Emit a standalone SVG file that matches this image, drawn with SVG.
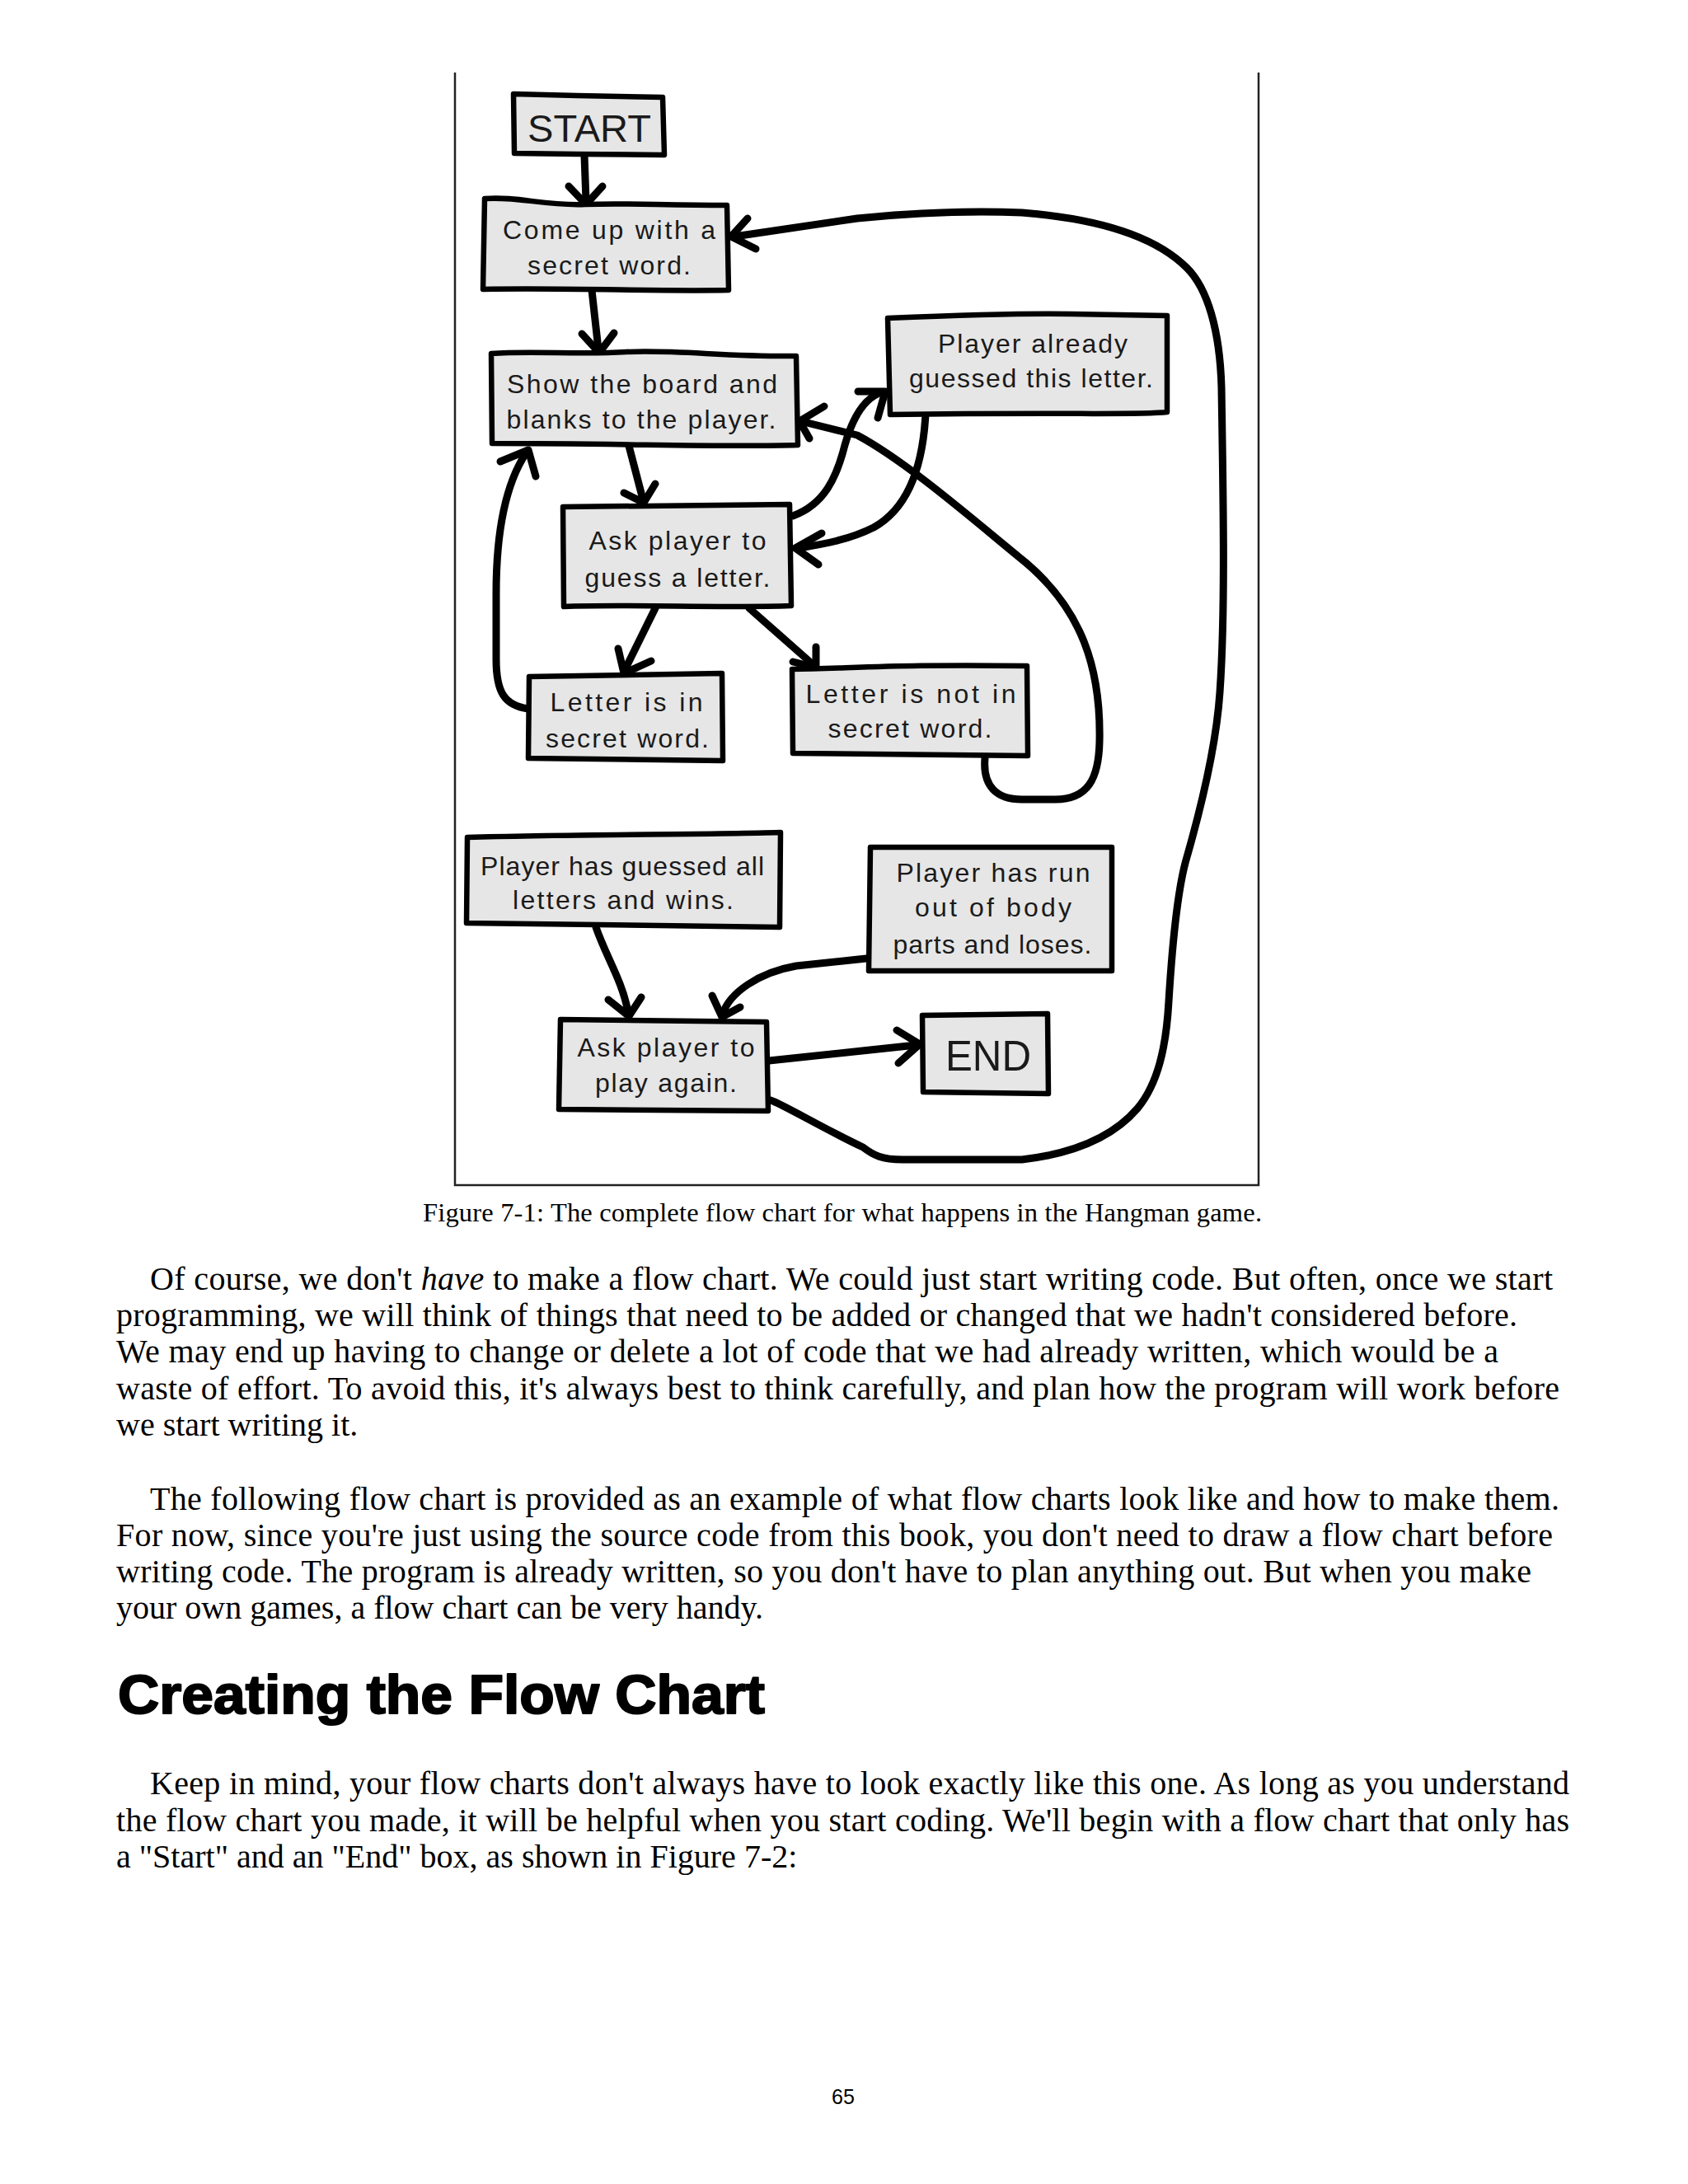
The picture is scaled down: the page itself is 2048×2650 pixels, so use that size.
<svg xmlns="http://www.w3.org/2000/svg" width="2048" height="2650" viewBox="0 0 2048 2650">
<style>
.box{fill:#e6e6e6;stroke:#000;stroke-width:6.5;stroke-linejoin:round}
.hand{font-family:"Liberation Sans","DejaVu Sans",sans-serif;font-size:32px;fill:#1a1a1a;text-anchor:middle}
.big{font-size:47px}
.huge{font-size:52px}
.line{fill:none;stroke:#000;stroke-width:9;stroke-linecap:round;stroke-linejoin:round}
.arrow{fill:none;stroke:#000;stroke-width:9;stroke-linecap:round;stroke-linejoin:round}
.frame{fill:none;stroke:#222;stroke-width:2.5}
.body{font-family:"Liberation Serif","Times New Roman",serif;font-size:40px;fill:#000}
.cap{font-family:"Liberation Serif","Times New Roman",serif;font-size:32.5px;fill:#000}
.head{font-family:"Liberation Sans",Arial,sans-serif;font-size:66px;font-weight:bold;fill:#000;stroke:#000;stroke-width:2;stroke-linejoin:round}
.pg{font-family:"Liberation Sans",Arial,sans-serif;font-size:25px;fill:#000}
</style>
<rect width="2048" height="2650" fill="#fff"/>
<path class="frame" d="M552,88 L552,1438 L1527,1438 L1527,88"/>

<g id="connectors">
  <path class="line" d="M709,189 L711,244"/>
  <path class="arrow" d="M690,226 L711,248 L731,226"/>
  <path class="line" d="M718,352 L726,424"/>
  <path class="arrow" d="M706,405 L727,428 L745,404"/>
  <path class="line" d="M763,541 L780,606"/>
  <path class="arrow" d="M757,598 L781,610 L795,587"/>
  <path class="line" d="M795,738 L758,813"/>
  <path class="arrow" d="M750,787 L757,817 L790,802"/>
  <path class="line" d="M909,738 L986,806"/>
  <path class="arrow" d="M962,803 L990,810 L990,785"/>
  <path class="line" d="M641,860 C612,856 602,840 602,800 L602,720 C602,640 615,585 638,550"/>
  <path class="arrow" d="M607,560 L641,546 L650,578"/>
  <path class="line" d="M1195,920 C1192,955 1210,970 1240,970 L1280,970 C1320,970 1333,945 1334,900 C1336,810 1312,740 1245,683 C1180,630 1100,560 1040,528 L975,512"/>
  <path class="arrow" d="M1000,493 L970,511 L982,532"/>
  <path class="line" d="M962,626 C1000,612 1015,580 1025,540 C1035,505 1050,482 1070,476"/>
  <path class="arrow" d="M1041,475 L1074,475 L1065,507"/>
  <path class="line" d="M1123,502 C1120,560 1105,615 1060,640 C1030,655 1000,660 970,665"/>
  <path class="arrow" d="M997,647 L965,665 L993,685"/>
  <path class="line" d="M723,1125 C735,1160 755,1190 762,1228"/>
  <path class="arrow" d="M738,1213 L763,1233 L778,1210"/>
  <path class="line" d="M1051,1163 L966,1172 C920,1180 885,1205 877,1230"/>
  <path class="arrow" d="M864,1208 L876,1234 L898,1222"/>
  <path class="line" d="M933,1287 L1112,1268"/>
  <path class="arrow" d="M1088,1250 L1116,1267 L1090,1290"/>
  <path class="line" d="M935,1335 C950,1340 1000,1370 1047,1392 C1060,1402 1070,1407 1095,1407 L1240,1407 C1300,1400 1350,1380 1380,1345 C1405,1315 1415,1270 1418,1215 C1422,1150 1428,1080 1440,1040 C1460,970 1476,900 1480,840 C1487,740 1484,600 1482,470 C1480,400 1465,350 1440,325 C1400,285 1330,265 1240,258 C1170,255 1110,258 1040,265 L891,287"/>
  <path class="arrow" d="M907,265 L887,287 L917,302"/>
</g>

<g id="start">
  <path class="box" d="M623,114 L700,116 L804,118 L806,188 L700,187 L624,186 Z"/>
  <text class="hand big" x="715" y="172" textLength="150" lengthAdjust="spacingAndGlyphs">START</text>
</g>
<g id="come-up">
  <path class="box" d="M588,241 C630,238 660,250 710,248 C760,246 800,249 882,249 L884,352 C800,354 700,349 586,351 Z"/>
  <text class="hand" x="739" y="290" textLength="258" lengthAdjust="spacing">Come up with a</text>
  <text class="hand" x="739" y="333" textLength="198" lengthAdjust="spacing">secret word.</text>
</g>
<g id="show-board">
  <path class="box" d="M596,429 C650,425 700,431 760,427 C820,424 880,433 966,432 L968,540 C880,543 760,538 597,538 Z"/>
  <text class="hand" x="779" y="477" textLength="328" lengthAdjust="spacing">Show the board and</text>
  <text class="hand" x="778" y="520" textLength="327" lengthAdjust="spacing">blanks to the player.</text>
</g>
<g id="already-guessed">
  <path class="box" d="M1077,386 C1150,383 1250,380 1300,381 L1416,383 L1416,500 C1380,504 1300,500 1080,503 Z"/>
  <text class="hand" x="1253" y="428" textLength="230" lengthAdjust="spacing">Player already</text>
  <text class="hand" x="1251" y="470" textLength="296" lengthAdjust="spacing">guessed this letter.</text>
</g>
<g id="ask-guess">
  <path class="box" d="M683,615 L958,612 L960,735 C880,738 760,733 684,736 Z"/>
  <text class="hand" x="822" y="667" textLength="215" lengthAdjust="spacing">Ask player to</text>
  <text class="hand" x="822" y="712" textLength="225" lengthAdjust="spacing">guess a letter.</text>
</g>
<g id="letter-in">
  <path class="box" d="M642,821 L876,817 L877,923 L641,920 Z"/>
  <text class="hand" x="760" y="863" textLength="185" lengthAdjust="spacing">Letter is in</text>
  <text class="hand" x="761" y="907" textLength="198" lengthAdjust="spacing">secret word.</text>
</g>
<g id="letter-not-in">
  <path class="box" d="M961,812 C1050,810 1100,806 1246,808 L1247,917 L962,914 Z"/>
  <text class="hand" x="1105" y="853" textLength="255" lengthAdjust="spacing">Letter is not in</text>
  <text class="hand" x="1104" y="895" textLength="199" lengthAdjust="spacing">secret word.</text>
</g>
<g id="wins">
  <path class="box" d="M567,1016 C700,1012 850,1013 947,1010 L946,1125 L566,1120 Z"/>
  <text class="hand" x="755" y="1062" textLength="344" lengthAdjust="spacing">Player has guessed all</text>
  <text class="hand" x="756" y="1103" textLength="268" lengthAdjust="spacing">letters and wins.</text>
</g>
<g id="loses">
  <path class="box" d="M1056,1028 L1349,1028 L1349,1178 L1054,1178 Z"/>
  <text class="hand" x="1205" y="1070" textLength="235" lengthAdjust="spacing">Player has run</text>
  <text class="hand" x="1205" y="1112" textLength="190" lengthAdjust="spacing">out of body</text>
  <text class="hand" x="1204" y="1157" textLength="241" lengthAdjust="spacing">parts and loses.</text>
</g>
<g id="play-again">
  <path class="box" d="M680,1237 L930,1240 L932,1348 L678,1346 Z"/>
  <text class="hand" x="808" y="1282" textLength="215" lengthAdjust="spacing">Ask player to</text>
  <text class="hand" x="808" y="1325" textLength="172" lengthAdjust="spacing">play again.</text>
</g>
<g id="end">
  <path class="box" d="M1119,1232 L1271,1230 L1272,1327 L1120,1325 Z"/>
  <text class="hand huge" x="1199" y="1299" textLength="104" lengthAdjust="spacingAndGlyphs">END</text>
</g>

<text class="cap" x="513" y="1482" textLength="1018" lengthAdjust="spacing">Figure 7-1: The complete flow chart for what happens in the Hangman game.</text>

<text class="body" x="182" y="1565" textLength="1702" lengthAdjust="spacing">Of course, we don't <tspan font-style="italic">have</tspan> to make a flow chart. We could just start writing code. But often, once we start</text>
<text class="body" x="141" y="1609" textLength="1700" lengthAdjust="spacing">programming, we will think of things that need to be added or changed that we hadn't considered before.</text>
<text class="body" x="141" y="1653" textLength="1677" lengthAdjust="spacing">We may end up having to change or delete a lot of code that we had already written, which would be a</text>
<text class="body" x="141" y="1698" textLength="1751" lengthAdjust="spacing">waste of effort. To avoid this, it's always best to think carefully, and plan how the program will work before</text>
<text class="body" x="141" y="1742">we start writing it.</text>

<text class="body" x="182" y="1832" textLength="1710" lengthAdjust="spacing">The following flow chart is provided as an example of what flow charts look like and how to make them.</text>
<text class="body" x="141" y="1876" textLength="1743" lengthAdjust="spacing">For now, since you're just using the source code from this book, you don't need to draw a flow chart before</text>
<text class="body" x="141" y="1920" textLength="1717" lengthAdjust="spacing">writing code. The program is already written, so you don't have to plan anything out. But when you make</text>
<text class="body" x="141" y="1964">your own games, a flow chart can be very handy.</text>

<text class="head" x="143" y="2079" textLength="785" lengthAdjust="spacingAndGlyphs">Creating the Flow Chart</text>

<text class="body" x="182" y="2177" textLength="1722" lengthAdjust="spacing">Keep in mind, your flow charts don't always have to look exactly like this one. As long as you understand</text>
<text class="body" x="141" y="2222" textLength="1763" lengthAdjust="spacing">the flow chart you made, it will be helpful when you start coding. We'll begin with a flow chart that only has</text>
<text class="body" x="141" y="2266">a "Start" and an "End" box, as shown in Figure 7-2:</text>

<text class="pg" x="1009" y="2553">65</text>
</svg>
